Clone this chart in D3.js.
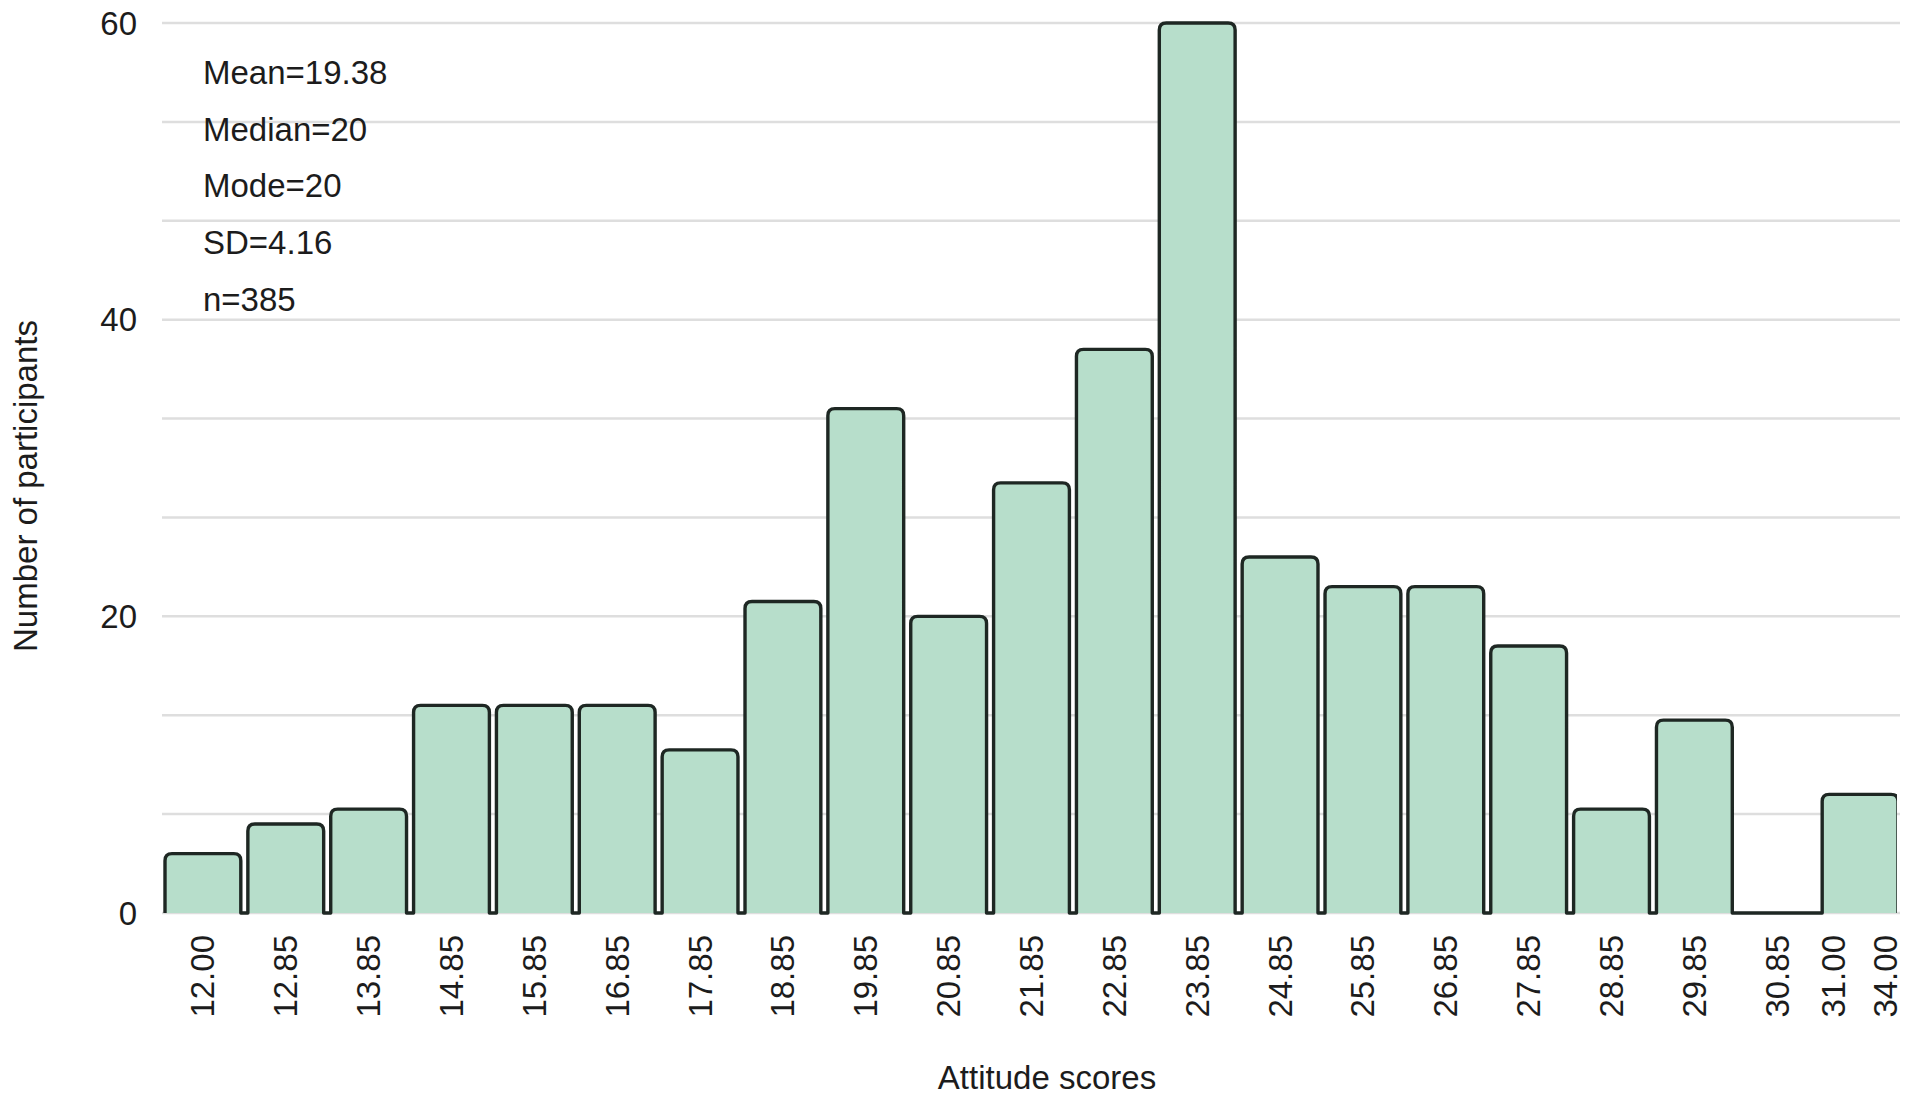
<!DOCTYPE html>
<html>
<head>
<meta charset="utf-8">
<script src="https://cdn.jsdelivr.net/npm/d3@7"></script>
<style>
  html, body { margin: 0; padding: 0; background: #ffffff; }
  svg { display: block; }
  text { font-family: "Liberation Sans", Arial, Helvetica, sans-serif; fill: #1c1c1c; }
</style>
</head>
<body>
<svg id="chart" width="1913" height="1103"></svg>
<script>
// ---- data ----
const binLabels = ["12.00","12.85","13.85","14.85","15.85","16.85","17.85","18.85","19.85","20.85",
                   "21.85","22.85","23.85","24.85","25.85","26.85","27.85","28.85","29.85","30.85","31.00"];
const counts = [4, 6, 7, 14, 14, 14, 11, 21, 34, 20, 29, 38, 60, 24, 22, 22, 18, 7, 13, 0, 8];
const lastBinEnd = "34.00";
const yTicks = [0, 20, 40, 60];
const gridCount = 9;          // gridlines every 20/3 units
const yMax = 60;
const statsLines = ["Mean=19.38", "Median=20", "Mode=20", "SD=4.16", "n=385"];
const xTitle = "Attitude scores";
const yTitle = "Number of participants";

// ---- layout ----
const mLeft = 162, mRight = 1900, mTop = 23, mBottom = 913;
const FS = 33;

const svg = d3.select("#chart");

const x = d3.scaleBand().domain(binLabels).range([mLeft + 3, mRight - 2]).paddingInner(0.085).paddingOuter(0);
const y = d3.scaleLinear().domain([0, yMax]).range([mBottom, mTop]);

// gridlines
const gridVals = d3.range(gridCount + 1).map(i => i * yMax / gridCount);
svg.append("g").selectAll("line").data(gridVals).join("line")
  .attr("x1", mLeft).attr("x2", mRight)
  .attr("y1", d => y(d)).attr("y2", d => y(d))
  .attr("stroke", "#dedede").attr("stroke-width", 2.5);

// y tick labels
svg.append("g").selectAll("text").data(yTicks).join("text")
  .attr("x", 137).attr("y", d => y(d))
  .attr("text-anchor", "end").attr("dominant-baseline", "central")
  .style("font-size", FS + "px")
  .text(d => d);

// clip
const xEnd = x.range()[1];
svg.append("clipPath").attr("id", "plotclip").append("rect")
  .attr("x", mLeft - 5).attr("y", 0).attr("width", xEnd - (mLeft - 5) - 1).attr("height", mBottom + 5);

const bw = x.bandwidth();
const r = 7;
function barShape(d, i) {
  const x0 = x(binLabels[i]), x1 = x0 + bw, yT = y(d), y0 = y(0);
  const rr = Math.min(r, (y0 - yT));
  if (rr <= 0) return `M${x0},${y0}L${x1},${y0}`;
  return `M${x0},${y0}L${x0},${yT + rr}Q${x0},${yT} ${x0 + rr},${yT}L${x1 - rr},${yT}Q${x1},${yT} ${x1},${yT + rr}L${x1},${y0}`;
}

const g = svg.append("g").attr("clip-path", "url(#plotclip)");
// fills
g.selectAll("path.fill").data(counts).join("path")
  .attr("class", "fill")
  .attr("d", (d, i) => barShape(d, i) + "Z")
  .attr("fill", "#b7decb").attr("stroke", "none");

// continuous outline
let outline = "";
counts.forEach((d, i) => {
  const s = barShape(d, i);
  outline += (i === 0 ? s : "L" + s.slice(1));
});
g.append("path").attr("d", outline)
  .attr("fill", "none").attr("stroke", "#1e2723").attr("stroke-width", 3.4)
  .attr("stroke-linejoin", "round");

// x tick labels
const labelTop = 935;
const xl = svg.append("g");
binLabels.forEach((lab, i) => {
  let cx;
  const last = i === binLabels.length - 1;
  if (!last) cx = x(lab) + bw / 2;
  else cx = x(lab) + 11;
  xl.append("text")
    .attr("transform", `translate(${cx},${labelTop}) rotate(-90)`)
    .attr("text-anchor", "end").attr("dominant-baseline", "central")
    .style("font-size", FS + "px").text(lab);
  if (last) {
    xl.append("text")
      .attr("transform", `translate(${x(lab) + bw - 13},${labelTop}) rotate(-90)`)
      .attr("text-anchor", "end").attr("dominant-baseline", "central")
      .style("font-size", FS + "px").text(lastBinEnd);
  }
});

// stats text
svg.append("g").selectAll("text").data(statsLines).join("text")
  .attr("x", 203).attr("y", (d, i) => 84 + i * 56.7)
  .style("font-size", FS + "px")
  .text(d => d);

// axis titles
svg.append("text").attr("x", 1047).attr("y", 1089)
  .attr("text-anchor", "middle").style("font-size", FS + "px").text(xTitle);
svg.append("text")
  .attr("transform", `translate(25,486) rotate(-90)`)
  .attr("text-anchor", "middle").attr("dominant-baseline", "central")
  .style("font-size", FS + "px").text(yTitle);
</script>
</body>
</html>
